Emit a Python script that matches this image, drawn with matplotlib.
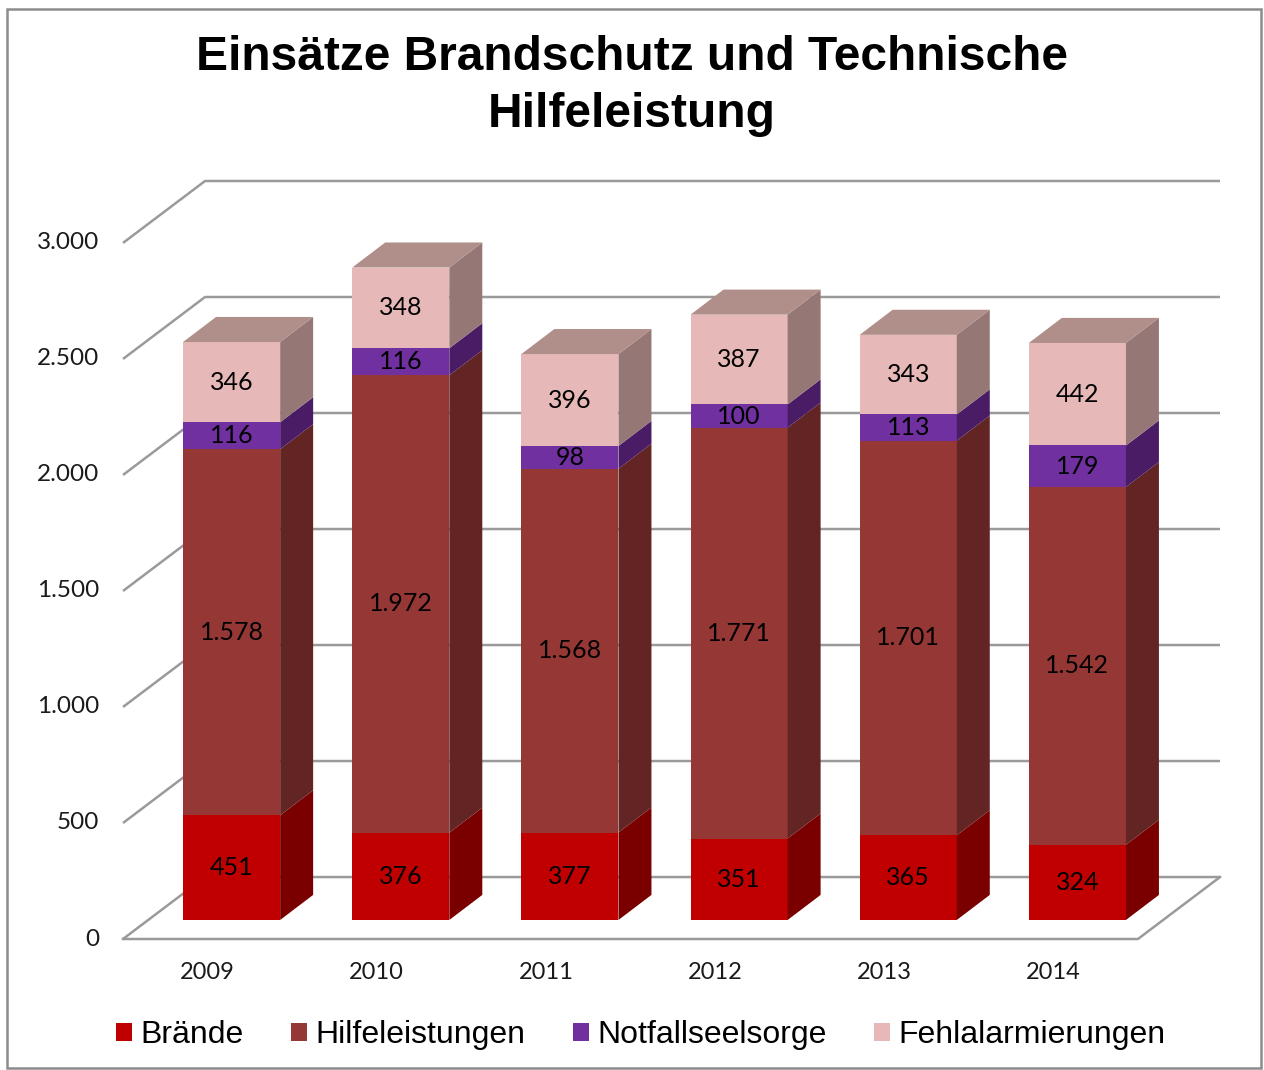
import matplotlib.pyplot as plt
from matplotlib.patches import Polygon, Rectangle, Patch

years = ["2009", "2010", "2011", "2012", "2013", "2014"]
braende = [451, 376, 377, 351, 365, 324]
hilfe = [1578, 1972, 1568, 1771, 1701, 1542]
notfall = [116, 116, 98, 100, 113, 179]
fehlalarm = [346, 348, 396, 387, 343, 442]

series = ["Brände", "Hilfeleistungen", "Notfallseelsorge", "Fehlalarmierungen"]
front_cols = ["#C00000", "#953735", "#7030A0", "#E6B9B8"]
side_cols = ["#7A0000", "#632523", "#4A1C66", "#957776"]
top_col = "#B08E89"
yticks = [0, 500, 1000, 1500, 2000, 2500, 3000]
ytick_labels = ["0", "500", "1.000", "1.500", "2.000", "2.500", "3.000"]

def fmt(v):
    return f"{v:,}".replace(",", ".")

# 3d look: offsets for back wall, bar front and bar depth (x in category units, y in values)
dxb, dyb = 0.485, 267
dxf, dyf = 0.142, 82
dxd, dyd = 0.195, 108
w = 0.574
grid_col = "#9A9A9A"
lab_font = "Lato"

fig = plt.figure(figsize=(12.64, 10.7), dpi=100)
fig.patches.append(Rectangle((7 / 1264, 2 / 1070), 1254 / 1264, 1059 / 1070,
                             transform=fig.transFigure, fill=False,
                             edgecolor="#8C8C8C", lw=1.8))
ax = fig.add_axes([123 / 1264, (1070 - 939) / 1070, 1097 / 1264, 758 / 1070])
ax.set_xlim(0, 6 + dxb)
ax.set_ylim(0, 3000 + dyb)
ax.axis("off")

# back wall gridlines and floor
for v, lab in zip(yticks, ytick_labels):
    ax.plot([0, dxb, 6 + dxb], [v, v + dyb, v + dyb], color=grid_col, lw=1.8,
            solid_capstyle="butt", clip_on=False, zorder=1)
    ax.text(-0.14, v, lab, ha="right", va="center", fontsize=17.5,
            family=lab_font, color="#1a1a1a")
ax.plot([0, 6, 6 + dxb], [0, 0, dyb], color=grid_col, lw=1.8, clip_on=False, zorder=1)

for i, y in enumerate(years):
    ax.text(i + 0.5, -145, y, ha="center", va="center", fontsize=17,
            family=lab_font, color="#1a1a1a")

data = [braende, hilfe, notfall, fehlalarm]
x0 = [i + 0.5 + dxf for i in range(len(years))]
cum = [0] * len(years)
for s, vals in enumerate(data):
    bottoms = [dyf + c for c in cum]
    ax.bar(x0, vals, width=w, bottom=bottoms, color=front_cols[s], zorder=3)
    for i, v in enumerate(vals):
        xr = x0[i] + w / 2
        b = bottoms[i]
        ax.add_patch(Polygon([(xr, b), (xr + dxd, b + dyd), (xr + dxd, b + v + dyd), (xr, b + v)],
                             closed=True, facecolor=side_cols[s], edgecolor="none", zorder=3))
        ax.text(x0[i], b + v / 2, fmt(v), ha="center", va="center", fontsize=18,
                family=lab_font, color="black", zorder=5)
    cum = [c + v for c, v in zip(cum, vals)]

for i, c in enumerate(cum):
    t = dyf + c
    xl = x0[i] - w / 2
    ax.add_patch(Polygon([(xl, t), (xl + w, t), (xl + w + dxd, t + dyd), (xl + dxd, t + dyd)],
                         closed=True, facecolor=top_col, edgecolor="none", zorder=3))

fig.text(0.5, 1 - 86 / 1070, "Einsätze Brandschutz und Technische\nHilfeleistung",
         ha="center", va="center", fontsize=34.5, fontweight="bold",
         family="Liberation Sans", linespacing=1.35)

handles = [Patch(facecolor=c, edgecolor="none") for c in front_cols]
fig.legend(handles, series, loc="center", bbox_to_anchor=(0.507, 1 - 1035 / 1070),
           ncol=4, frameon=False, prop={"family": "Liberation Sans", "size": 23},
           handlelength=0.5, handleheight=0.5, handletextpad=0.25, columnspacing=1.5)

fig.savefig("out.png", dpi=100)
